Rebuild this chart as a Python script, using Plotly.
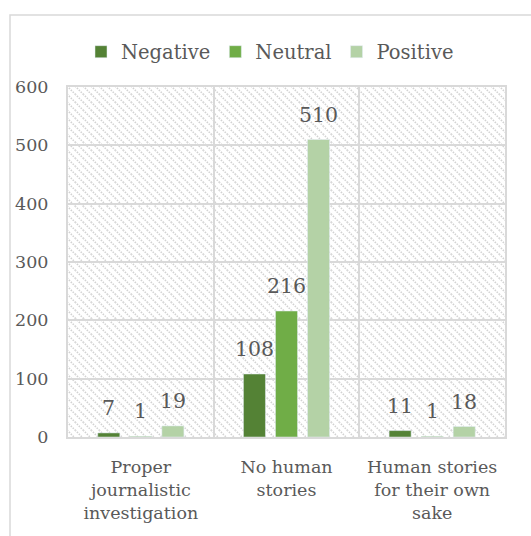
import base64
import plotly.graph_objects as go

categories = ["Proper<br>journalistic<br>investigation", "No human<br>stories", "Human stories<br>for their own<br>sake"]
series_names = ["Negative", "Neutral", "Positive"]
negative = [7, 108, 11]
neutral = [1, 216, 1]
positive = [19, 510, 18]
y_ticks = [0, 100, 200, 300, 400, 500, 600]

colors = ["#548235", "#70ad47", "#b4d2a6"]
W, H = 531, 536
ML, MR, MT, MB = 68, 26, 87, 99
PW, PH = W - ML - MR, H - MT - MB
FONT = "DejaVu Serif"
TXT = "#595959"
GRID = "#d9d9d9"
BARGAP, GROUPGAP = 0.34, 0.3125

svg = (
    f'<svg xmlns="http://www.w3.org/2000/svg" width="{PW}" height="{PH}" viewBox="0 0 {PW} {PH}" preserveAspectRatio="none">'
    '<defs><pattern id="p" patternUnits="userSpaceOnUse" width="8" height="8">'
    '<path d="M-1,-1 L9,9 M-1,7 L1,9 M7,-1 L9,1" stroke="#d2d2d2" stroke-width="1.6" stroke-dasharray="1.5,1.2"/>'
    '</pattern></defs><rect width="100%" height="100%" fill="url(#p)"/></svg>'
)
svg_uri = "data:image/svg+xml;base64," + base64.b64encode(svg.encode()).decode()

fig = go.Figure()
series_vals = [negative, neutral, positive]
for name, vals, col in zip(series_names, series_vals, colors):
    fig.add_trace(go.Bar(x=categories, y=vals, name=name, marker_color=col))

annotations = []
slot = (1 - BARGAP) / len(series_vals)
for si, vals in enumerate(series_vals):
    off = (si - (len(series_vals) - 1) / 2) * slot
    for ci, v in enumerate(vals):
        annotations.append(dict(
            x=ci + off, y=v, xref="x", yref="y", text=str(v), showarrow=False,
            xanchor="center", yanchor="bottom", yshift=11,
            font=dict(family=FONT, size=20.5, color=TXT),
        ))

fig.update_layout(
    width=W, height=H,
    margin=dict(l=ML, r=MR, t=MT, b=MB, autoexpand=False),
    paper_bgcolor="white",
    plot_bgcolor="rgba(0,0,0,0)",
    barmode="group", bargap=BARGAP, bargroupgap=GROUPGAP,
    font=dict(family=FONT, color=TXT, size=18),
    legend=dict(orientation="h", x=(270 - ML) / PW, xanchor="center",
                y=1 + (MT - 52) / PH, yanchor="middle",
                font=dict(family=FONT, size=19.5, color=TXT),
                itemwidth=30),
    showlegend=True,
    annotations=annotations,
    images=[dict(source=svg_uri, xref="paper", yref="paper", x=0, y=1,
                 sizex=1, sizey=1, xanchor="left", yanchor="top",
                 sizing="stretch", layer="below")],
    shapes=[dict(type="rect", xref="paper", yref="paper",
                 x0=(10 - ML) / PW, x1=1.5, y0=-1, y1=1 + (MT - 15) / PH,
                 line=dict(color=GRID, width=1.5), fillcolor="rgba(0,0,0,0)")],
)
fig.update_xaxes(
    tickson="boundaries", showgrid=True, gridcolor=GRID, gridwidth=2,
    showline=True, linecolor=GRID, linewidth=2, mirror=True, automargin=False,
    ticks="", tickfont=dict(family=FONT, size=17.5, color=TXT),
    ticklabelstandoff=13,
)
fig.update_yaxes(
    range=[0, 600], tickvals=y_ticks, showgrid=True, gridcolor=GRID, gridwidth=2,
    showline=True, linecolor=GRID, linewidth=2, mirror=True, zeroline=False, automargin=False,
    ticks="", tickfont=dict(family=FONT, size=17.5, color=TXT),
    ticklabelstandoff=14,
)
fig.write_html("out.html")
